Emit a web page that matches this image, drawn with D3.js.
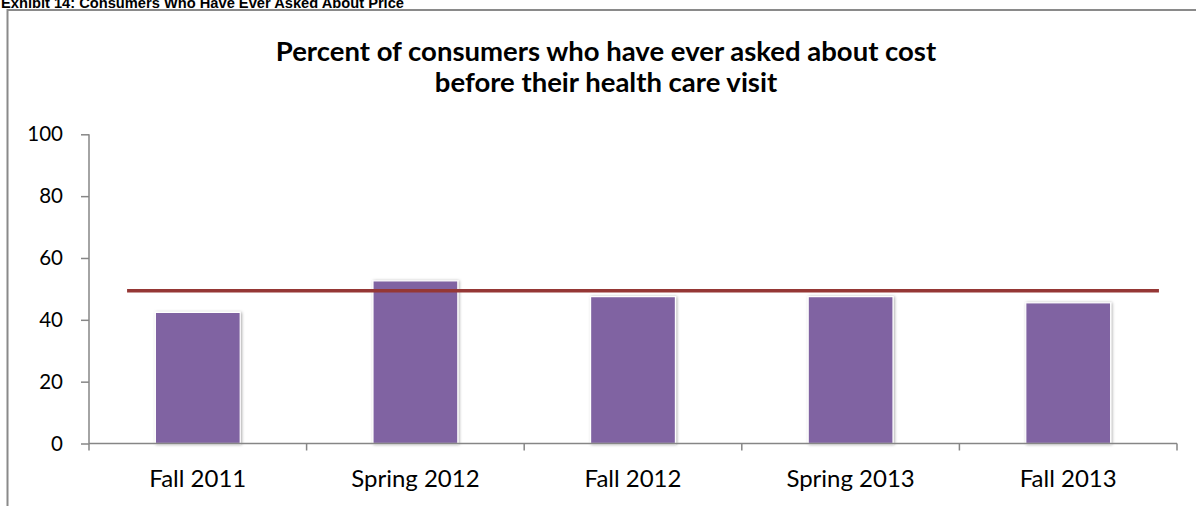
<!DOCTYPE html>
<html>
<head>
<meta charset="utf-8">
<script src="https://cdn.jsdelivr.net/npm/d3@7"></script>
<style>
  html, body { margin: 0; padding: 0; background: #fff; }
  svg { display: block; }
</style>
</head>
<body>
<svg id="chart" width="1196" height="506"></svg>
<script>
// Survey waves and share of consumers who have ever asked about cost (%)
const categories = ["Fall 2011", "Spring 2012", "Fall 2012", "Spring 2013", "Fall 2013"];
const askedPct = [42.4, 52.6, 47.5, 47.5, 45.5];
// Overall average drawn as a horizontal reference line
const averagePct = [49.4];
// Extent of the reference line along the category axis (in category units, 0..5)
const averageSpan = [0.175, 4.917];
const yTicks = [0, 20, 40, 60, 80, 100];

const exhibitTitle = "Exhibit 14: Consumers Who Have Ever Asked About Price";
const chartTitle = ["Percent of consumers who have ever asked about cost",
                    "before their health care visit"];

const svg = d3.select("#chart");
const plot = { left: 89, right: 1177, top: 134.3, bottom: 443.5 };
const labelFont = "Lato, 'Open Sans', sans-serif";

const defs = svg.append("defs");
const shadow = defs.append("filter").attr("id", "barShadow")
  .attr("x", "-20%").attr("y", "-10%").attr("width", "140%").attr("height", "120%");
shadow.append("feDropShadow").attr("dx", 1).attr("dy", 0.5)
  .attr("stdDeviation", 1.5).attr("flood-color", "#000").attr("flood-opacity", 0.35);

// Exhibit heading, partly clipped at the top of the page
svg.append("text")
  .attr("x", 1).attr("y", 7.5)
  .attr("font-family", "'Liberation Sans', Arial, sans-serif")
  .attr("font-weight", "bold").attr("font-size", 15)
  .attr("textLength", 403).attr("lengthAdjust", "spacingAndGlyphs")
  .attr("fill", "#000")
  .text(exhibitTitle);

// Chart frame
svg.append("rect")
  .attr("x", 7.5).attr("y", 10).attr("width", 1210).attr("height", 520)
  .attr("fill", "none").attr("stroke", "#8a8a8a").attr("stroke-width", 2);

// Chart title
const titleG = svg.append("text")
  .attr("text-anchor", "middle")
  .attr("font-family", labelFont)
  .attr("font-weight", "bold").attr("font-size", 27.5)
  .attr("fill", "#000");
chartTitle.forEach((t, i) => {
  titleG.append("tspan").attr("x", 606).attr("y", 61 + i * 31).text(t);
});

const x = d3.scaleBand().domain(categories).range([plot.left, plot.right])
  .paddingInner(0.61).paddingOuter(0.305);
const xPos = d3.scaleLinear().domain([0, categories.length]).range([plot.left, plot.right]);
const y = d3.scaleLinear().domain([0, 100]).range([plot.bottom, plot.top]);

// Bars
svg.append("g").selectAll("rect")
  .data(askedPct)
  .join("rect")
  .attr("x", (d, i) => x(categories[i]))
  .attr("y", d => y(d))
  .attr("width", x.bandwidth())
  .attr("height", d => y(0) - y(d))
  .attr("fill", "#8064a2")
  .attr("stroke", "#ffffff").attr("stroke-width", 1.2)
  .attr("filter", "url(#barShadow)");

// Y axis
const yAxis = svg.append("g")
  .attr("transform", `translate(${plot.left},0)`)
  .call(d3.axisLeft(y).tickValues(yTicks).tickSize(8).tickPadding(18).tickFormat(d3.format("d")));
yAxis.select(".domain").attr("stroke", "#868686").attr("stroke-width", 1.5)
  .attr("d", `M0,${plot.top}V${plot.bottom}`);
yAxis.selectAll(".tick line").attr("stroke", "#868686").attr("stroke-width", 1.5);
yAxis.selectAll(".tick text")
  .attr("font-family", labelFont).attr("font-size", 20.5).attr("fill", "#000");

// X axis with ticks between categories
const xAxis = svg.append("g")
  .attr("transform", `translate(0,${plot.bottom})`);
xAxis.append("path")
  .attr("d", `M${plot.left},0H${plot.right}`)
  .attr("stroke", "#868686").attr("stroke-width", 1.5).attr("fill", "none");
xAxis.selectAll("line.sep")
  .data(d3.range(categories.length + 1))
  .join("line").attr("class", "sep")
  .attr("x1", d => xPos(d)).attr("x2", d => xPos(d))
  .attr("y1", 0).attr("y2", 7)
  .attr("stroke", "#868686").attr("stroke-width", 1.5);
xAxis.selectAll("text")
  .data(categories)
  .join("text")
  .attr("x", d => x(d) + x.bandwidth() / 2)
  .attr("y", 43.5)
  .attr("text-anchor", "middle")
  .attr("font-family", labelFont).attr("font-size", 24).attr("fill", "#000")
  .text(d => d);

// Average reference line
svg.append("g").selectAll("line")
  .data(averagePct)
  .join("line")
  .attr("x1", xPos(averageSpan[0])).attr("x2", xPos(averageSpan[1]))
  .attr("y1", d => y(d)).attr("y2", d => y(d))
  .attr("stroke", "#953735").attr("stroke-width", 3.5);
</script>
</body>
</html>
